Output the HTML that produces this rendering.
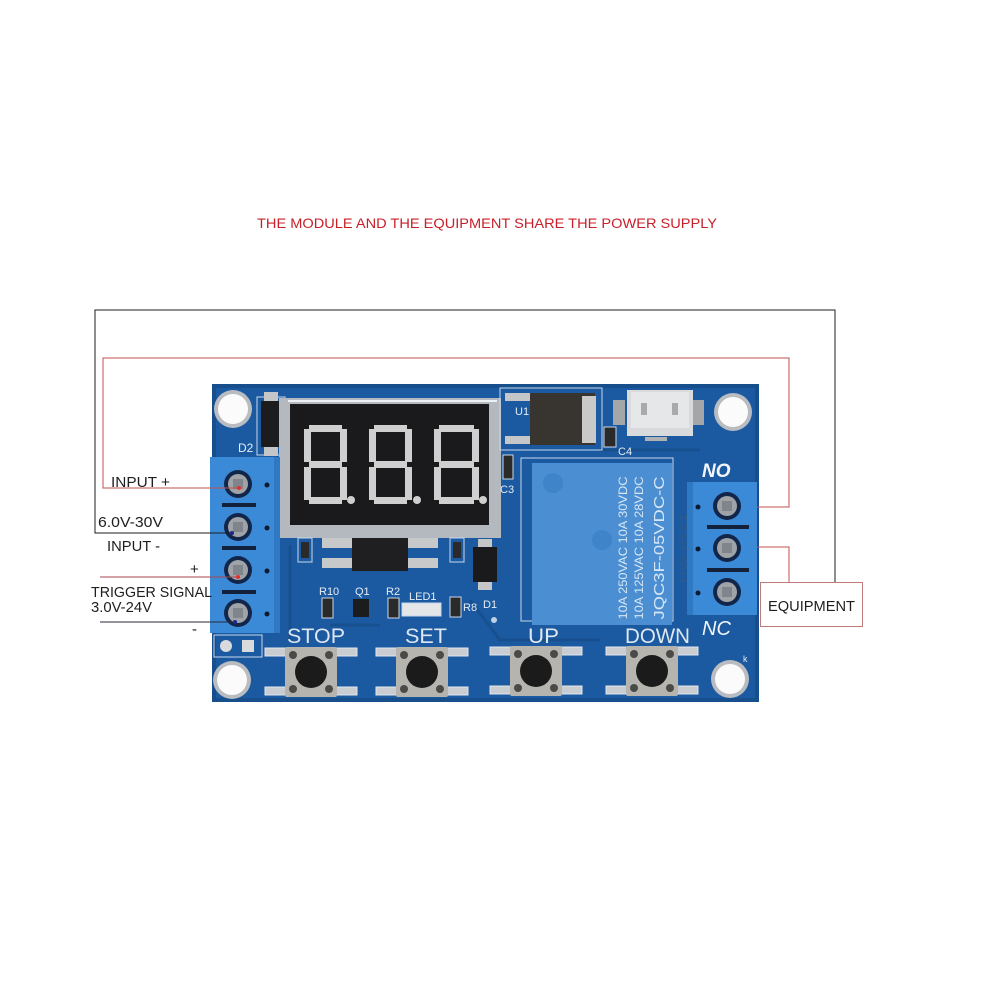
<!DOCTYPE html>
<html>
<head>
<meta charset="utf-8">
<style>
  html, body { margin:0; padding:0; background:#ffffff; }
  body { width:989px; height:989px; overflow:hidden; }
  svg { display:block; }
  text { font-family: "Liberation Sans", "DejaVu Sans", sans-serif; }
</style>
</head>
<body>
<svg width="989" height="989" viewBox="0 0 989 989" xmlns="http://www.w3.org/2000/svg">
  <rect x="0" y="0" width="989" height="989" fill="#ffffff"/>

  <!-- Title -->
  <text x="257" y="228" font-size="14" fill="#c8202a" textLength="460" lengthAdjust="spacingAndGlyphs">THE MODULE AND THE EQUIPMENT SHARE THE POWER SUPPLY</text>

  <!-- PCB board -->
  <rect x="212" y="384" width="547" height="318" rx="2" fill="#1b5aa0"/>
  <rect x="214" y="386" width="543" height="314" fill="none" stroke="#174e8c" stroke-width="4"/>
  <!-- faint traces -->
  <g stroke="#18508f" stroke-width="3" fill="none">
    <path d="M290 545 L290 640"/>
    <path d="M470 600 L500 640 L600 640"/>
    <path d="M330 625 L380 625"/>
    <path d="M600 450 L700 450"/>
  </g>

  <!-- Mounting holes -->
  <g>
    <circle cx="233" cy="409" r="19" fill="#b9bcc0"/><circle cx="233" cy="409" r="15" fill="#fbfbfb"/>
    <circle cx="733" cy="412" r="19" fill="#b9bcc0"/><circle cx="733" cy="412" r="15" fill="#fbfbfb"/>
    <circle cx="232" cy="680" r="19" fill="#b9bcc0"/><circle cx="232" cy="680" r="15" fill="#fbfbfb"/>
    <circle cx="730" cy="679" r="19" fill="#b9bcc0"/><circle cx="730" cy="679" r="15" fill="#fbfbfb"/>
  </g>

  <!-- D2 -->
  <rect x="257" y="397" width="28" height="58" fill="none" stroke="#c8d8ea" stroke-width="1"/>
  <rect x="264" y="392" width="14" height="10" fill="#c4c6c8"/>
  <rect x="264" y="446" width="14" height="10" fill="#c4c6c8"/>
  <rect x="261" y="401" width="21" height="46" fill="#1c1c1e"/>
  <text x="238" y="452" font-size="12" fill="#e6edf5">D2</text>

  <!-- Display frame -->
  <rect x="279" y="398" width="222" height="140" fill="#b4b9c0"/>
  <rect x="288" y="400" width="209" height="2" fill="#eef1f4"/>
  <rect x="290" y="404" width="199" height="121" fill="#1a1a1c"/>

  <!-- Digits -->
  <g fill="#cfcfcf">
    <!-- digit 1 at x=304 -->
    <g transform="translate(304,425)">
      <rect x="5" y="0" width="33" height="7"/>
      <rect x="36" y="4" width="7" height="33"/>
      <rect x="36" y="42" width="7" height="33"/>
      <rect x="5" y="72" width="33" height="7"/>
      <rect x="0" y="42" width="7" height="33"/>
      <rect x="0" y="4" width="7" height="33"/>
      <rect x="5" y="36" width="33" height="7"/>
      <circle cx="47" cy="75" r="4"/>
    </g>
    <g transform="translate(369,425)">
      <rect x="5" y="0" width="33" height="7"/>
      <rect x="36" y="4" width="7" height="33"/>
      <rect x="36" y="42" width="7" height="33"/>
      <rect x="5" y="72" width="33" height="7"/>
      <rect x="0" y="42" width="7" height="33"/>
      <rect x="0" y="4" width="7" height="33"/>
      <rect x="5" y="36" width="33" height="7"/>
      <circle cx="48" cy="75" r="4"/>
    </g>
    <g transform="translate(434,425)">
      <rect x="5" y="0" width="35" height="7"/>
      <rect x="38" y="4" width="7" height="33"/>
      <rect x="38" y="42" width="7" height="33"/>
      <rect x="5" y="72" width="35" height="7"/>
      <rect x="0" y="42" width="7" height="33"/>
      <rect x="0" y="4" width="7" height="33"/>
      <rect x="5" y="36" width="35" height="7"/>
      <circle cx="49" cy="75" r="4"/>
    </g>
  </g>

  <!-- Components below display -->
  <rect x="322" y="538" width="30" height="10" fill="#c6c8ca"/>
  <rect x="322" y="558" width="30" height="10" fill="#c6c8ca"/>
  <rect x="408" y="538" width="30" height="10" fill="#c6c8ca"/>
  <rect x="408" y="558" width="30" height="10" fill="#c6c8ca"/>
  <rect x="352" y="538" width="56" height="33" fill="#1f1f21"/>
  <rect x="298" y="538" width="14" height="24" fill="none" stroke="#c8d8ea"/>
  <rect x="301" y="542" width="8" height="16" fill="#2a2a2a"/>
  <rect x="450" y="538" width="14" height="24" fill="none" stroke="#c8d8ea"/>
  <rect x="453" y="542" width="8" height="16" fill="#2a2a2a"/>
  <!-- D1 -->
  <rect x="478" y="539" width="14" height="10" fill="#c4c6c8"/>
  <rect x="478" y="580" width="14" height="10" fill="#c4c6c8"/>
  <rect x="473" y="547" width="24" height="35" fill="#1a1a1c"/>
  <text x="483" y="608" font-size="11" fill="#e6edf5">D1</text>

  <!-- small labels -->
  <g font-size="11" fill="#e6edf5">
    <text x="319" y="595">R10</text>
    <text x="355" y="595">Q1</text>
    <text x="386" y="595">R2</text>
    <text x="409" y="600">LED1</text>
    <text x="463" y="611">R8</text>
  </g>
  <rect x="322" y="598" width="11" height="20" fill="#2a2a2a" stroke="#c8d8ea"/>
  <rect x="353" y="599" width="16" height="18" fill="#1c1c1c"/>
  <rect x="388" y="598" width="11" height="20" fill="#2a2a2a" stroke="#c8d8ea"/>
  <rect x="402" y="603" width="39" height="13" fill="#e4e6e8" stroke="#c8d8ea"/>
  <rect x="450" y="597" width="11" height="20" fill="#2a2a2a" stroke="#c8d8ea"/>
  <circle cx="494" cy="620" r="3" fill="#c0d0e4"/>

  <!-- U1 -->
  <rect x="500" y="388" width="102" height="62" fill="none" stroke="#c8d8ea"/>
  <rect x="505" y="393" width="27" height="8" fill="#c4c6c8"/>
  <rect x="505" y="436" width="27" height="8" fill="#c4c6c8"/>
  <rect x="530" y="393" width="65" height="52" fill="#38342f"/>
  <rect x="582" y="396" width="14" height="47" fill="#c9c9c9"/>
  <text x="515" y="415" font-size="11" fill="#e6edf5">U1</text>
  <!-- C3 -->
  <rect x="503" y="455" width="10" height="24" fill="#2a2a2a" stroke="#c8d8ea"/>
  <text x="500" y="493" font-size="11" fill="#e6edf5">C3</text>
  <!-- C4 -->
  <rect x="604" y="427" width="12" height="20" fill="#2a2a2a" stroke="#c8d8ea"/>
  <text x="618" y="455" font-size="11" fill="#e6edf5">C4</text>
  <!-- USB -->
  <rect x="613" y="400" width="12" height="25" fill="#a4a6a8"/>
  <rect x="693" y="400" width="11" height="25" fill="#a4a6a8"/>
  <rect x="627" y="390" width="66" height="46" fill="#d9dadb"/>
  <rect x="631" y="392" width="58" height="36" fill="#e6e7e8"/>
  <rect x="641" y="403" width="6" height="12" fill="#a8aaac"/>
  <rect x="672" y="403" width="6" height="12" fill="#a8aaac"/>
  <rect x="645" y="437" width="22" height="4" fill="#b0b2b4"/>

  <!-- Relay -->
  <rect x="521" y="458" width="152" height="163" fill="none" stroke="#c8d8ea" stroke-width="1"/>
  <rect x="532" y="463" width="140" height="162" fill="#4b8fd2"/>
  <circle cx="553" cy="483" r="10" fill="#3f84c9"/>
  <circle cx="602" cy="540" r="10" fill="#3f84c9"/>
  <g fill="#d6e6f6">
    <text transform="translate(627,548) rotate(-90)" font-size="12" text-anchor="middle" textLength="143" lengthAdjust="spacingAndGlyphs">10A 250VAC 10A 30VDC</text>
    <text transform="translate(643,548) rotate(-90)" font-size="12" text-anchor="middle" textLength="143" lengthAdjust="spacingAndGlyphs">10A 125VAC 10A 28VDC</text>
    <text transform="translate(664,548) rotate(-90)" font-size="15" text-anchor="middle" textLength="143" lengthAdjust="spacingAndGlyphs">JQC3F-05VDC-C</text>
  </g>
  <text transform="translate(687,548) rotate(-90)" font-size="11" fill="#2d5a8c" text-anchor="middle" textLength="70" lengthAdjust="spacingAndGlyphs">HW-0521</text>

  <!-- Right terminal block -->
  <rect x="687" y="482" width="70" height="133" fill="#3b8ad8"/>
  <rect x="687" y="482" width="6" height="133" fill="#2f78c2"/>
  <rect x="707" y="525" width="42" height="4" fill="#14213a"/>
  <rect x="707" y="568" width="42" height="4" fill="#14213a"/>
  <g>
    <circle cx="698" cy="507" r="2.5" fill="#0e1a30"/>
    <circle cx="698" cy="549" r="2.5" fill="#0e1a30"/>
    <circle cx="698" cy="593" r="2.5" fill="#0e1a30"/>
    <circle cx="727" cy="506" r="14" fill="#12264a"/><circle cx="727" cy="506" r="10" fill="#9fa3a8"/><rect x="722" y="501" width="10" height="10" fill="#80858b"/>
    <circle cx="727" cy="548" r="14" fill="#12264a"/><circle cx="727" cy="548" r="10" fill="#9fa3a8"/><rect x="722" y="543" width="10" height="10" fill="#80858b"/>
    <circle cx="727" cy="592" r="14" fill="#12264a"/><circle cx="727" cy="592" r="10" fill="#9fa3a8"/><rect x="722" y="587" width="10" height="10" fill="#80858b"/>
  </g>
  <text x="702" y="477" font-size="19" font-weight="bold" font-style="italic" fill="#f2f6fb">NO</text>
  <text x="702" y="635" font-size="20" font-style="italic" fill="#f2f6fb">NC</text>
  <text x="743" y="662" font-size="9" fill="#e6edf5">k</text>

  <!-- Left terminal block -->
  <rect x="210" y="457" width="70" height="176" fill="#3b8ad8"/>
  <rect x="274" y="457" width="6" height="176" fill="#2f78c2"/>
  <rect x="222" y="503" width="34" height="4" fill="#14213a"/>
  <rect x="222" y="546" width="34" height="4" fill="#14213a"/>
  <rect x="222" y="590" width="34" height="4" fill="#14213a"/>
  <g>
    <circle cx="267" cy="485" r="2.5" fill="#0e1a30"/>
    <circle cx="267" cy="528" r="2.5" fill="#0e1a30"/>
    <circle cx="267" cy="571" r="2.5" fill="#0e1a30"/>
    <circle cx="267" cy="614" r="2.5" fill="#0e1a30"/>
    <circle cx="238" cy="484" r="14" fill="#12264a"/><circle cx="238" cy="484" r="10" fill="#9fa3a8"/><rect x="233" y="479" width="10" height="10" fill="#80858b"/>
    <circle cx="238" cy="527" r="14" fill="#12264a"/><circle cx="238" cy="527" r="10" fill="#9fa3a8"/><rect x="233" y="522" width="10" height="10" fill="#80858b"/>
    <circle cx="238" cy="570" r="14" fill="#12264a"/><circle cx="238" cy="570" r="10" fill="#9fa3a8"/><rect x="233" y="565" width="10" height="10" fill="#80858b"/>
    <circle cx="238" cy="613" r="14" fill="#12264a"/><circle cx="238" cy="613" r="10" fill="#9fa3a8"/><rect x="233" y="608" width="10" height="10" fill="#80858b"/>
  </g>
  <!-- small pads below left terminal -->
  <rect x="214" y="635" width="48" height="22" fill="none" stroke="#c8d8ea"/>
  <circle cx="226" cy="646" r="6" fill="#d8dadc"/>
  <rect x="242" y="640" width="12" height="12" fill="#d8dadc"/>

  <!-- Buttons -->
  <g id="btns">
    <!-- STOP -->
    <g transform="translate(311,672)">
      <rect x="-46" y="-24" width="22" height="8" fill="#c9cdd2" stroke="#e0e6ee" stroke-width="1"/>
      <rect x="-46" y="15" width="22" height="8" fill="#c9cdd2" stroke="#e0e6ee" stroke-width="1"/>
      <rect x="24" y="-24" width="22" height="8" fill="#c9cdd2" stroke="#e0e6ee" stroke-width="1"/>
      <rect x="24" y="15" width="22" height="8" fill="#c9cdd2" stroke="#e0e6ee" stroke-width="1"/>
      <rect x="-26" y="-25" width="52" height="50" rx="2" fill="#b6b4ae"/>
      <circle cx="0" cy="0" r="16" fill="#1b1b1b"/>
      <circle cx="-18" cy="-17" r="4" fill="#4a4a48"/><circle cx="18" cy="-17" r="4" fill="#4a4a48"/>
      <circle cx="-18" cy="17" r="4" fill="#4a4a48"/><circle cx="18" cy="17" r="4" fill="#4a4a48"/>
    </g>
    <g transform="translate(422,672)">
      <rect x="-46" y="-24" width="22" height="8" fill="#c9cdd2" stroke="#e0e6ee" stroke-width="1"/>
      <rect x="-46" y="15" width="22" height="8" fill="#c9cdd2" stroke="#e0e6ee" stroke-width="1"/>
      <rect x="24" y="-24" width="22" height="8" fill="#c9cdd2" stroke="#e0e6ee" stroke-width="1"/>
      <rect x="24" y="15" width="22" height="8" fill="#c9cdd2" stroke="#e0e6ee" stroke-width="1"/>
      <rect x="-26" y="-25" width="52" height="50" rx="2" fill="#b6b4ae"/>
      <circle cx="0" cy="0" r="16" fill="#1b1b1b"/>
      <circle cx="-18" cy="-17" r="4" fill="#4a4a48"/><circle cx="18" cy="-17" r="4" fill="#4a4a48"/>
      <circle cx="-18" cy="17" r="4" fill="#4a4a48"/><circle cx="18" cy="17" r="4" fill="#4a4a48"/>
    </g>
    <g transform="translate(536,671)">
      <rect x="-46" y="-24" width="22" height="8" fill="#c9cdd2" stroke="#e0e6ee" stroke-width="1"/>
      <rect x="-46" y="15" width="22" height="8" fill="#c9cdd2" stroke="#e0e6ee" stroke-width="1"/>
      <rect x="24" y="-24" width="22" height="8" fill="#c9cdd2" stroke="#e0e6ee" stroke-width="1"/>
      <rect x="24" y="15" width="22" height="8" fill="#c9cdd2" stroke="#e0e6ee" stroke-width="1"/>
      <rect x="-26" y="-25" width="52" height="50" rx="2" fill="#b6b4ae"/>
      <circle cx="0" cy="0" r="16" fill="#1b1b1b"/>
      <circle cx="-18" cy="-17" r="4" fill="#4a4a48"/><circle cx="18" cy="-17" r="4" fill="#4a4a48"/>
      <circle cx="-18" cy="17" r="4" fill="#4a4a48"/><circle cx="18" cy="17" r="4" fill="#4a4a48"/>
    </g>
    <g transform="translate(652,671)">
      <rect x="-46" y="-24" width="22" height="8" fill="#c9cdd2" stroke="#e0e6ee" stroke-width="1"/>
      <rect x="-46" y="15" width="22" height="8" fill="#c9cdd2" stroke="#e0e6ee" stroke-width="1"/>
      <rect x="24" y="-24" width="22" height="8" fill="#c9cdd2" stroke="#e0e6ee" stroke-width="1"/>
      <rect x="24" y="15" width="22" height="8" fill="#c9cdd2" stroke="#e0e6ee" stroke-width="1"/>
      <rect x="-26" y="-25" width="52" height="50" rx="2" fill="#b6b4ae"/>
      <circle cx="0" cy="0" r="16" fill="#1b1b1b"/>
      <circle cx="-18" cy="-17" r="4" fill="#4a4a48"/><circle cx="18" cy="-17" r="4" fill="#4a4a48"/>
      <circle cx="-18" cy="17" r="4" fill="#4a4a48"/><circle cx="18" cy="17" r="4" fill="#4a4a48"/>
    </g>
  </g>
  <g font-size="21" fill="#dfe7f1">
    <text x="287" y="643" textLength="58" lengthAdjust="spacingAndGlyphs">STOP</text>
    <text x="405" y="643" textLength="42" lengthAdjust="spacingAndGlyphs">SET</text>
    <text x="528" y="643" textLength="31" lengthAdjust="spacingAndGlyphs">UP</text>
    <text x="625" y="643" textLength="65" lengthAdjust="spacingAndGlyphs">DOWN</text>
  </g>

  <!-- Connector lines -->
  <polyline points="230,533 95,533 95,310 835,310 835,582" fill="none" stroke="#1e1e1e" stroke-width="1"/>
  <polyline points="238,488 103,488 103,358 789,358 789,507 757,507" fill="none" stroke="#c0504f" stroke-width="1"/>
  <polyline points="757,547 789,547 789,582" fill="none" stroke="#c0504f" stroke-width="1"/>
  <line x1="100" y1="577" x2="238" y2="577" stroke="#a9474f" stroke-width="1"/>
  <line x1="100" y1="622" x2="236" y2="622" stroke="#2a2a3a" stroke-width="1"/>
  <circle cx="239" cy="488" r="2" fill="#e03030"/>
  <circle cx="238" cy="577" r="2" fill="#e03030"/>
  <circle cx="232" cy="533" r="2" fill="#1a2a8a"/>
  <circle cx="235" cy="622" r="2" fill="#1a2a8a"/>

  <!-- Equipment box -->
  <rect x="760.5" y="582.5" width="102" height="44" fill="#ffffff" stroke="#c07a7a" stroke-width="1"/>
  <text x="768" y="611" font-size="15" fill="#1e1e1e" textLength="87" lengthAdjust="spacingAndGlyphs">EQUIPMENT</text>

  <!-- Left labels -->
  <g font-size="15" fill="#1e1e1e">
    <text x="111" y="487" textLength="59" lengthAdjust="spacingAndGlyphs">INPUT +</text>
    <text x="98" y="527" textLength="65" lengthAdjust="spacingAndGlyphs">6.0V-30V</text>
    <text x="107" y="551" textLength="53" lengthAdjust="spacingAndGlyphs">INPUT -</text>
    <text x="190" y="574">+</text>
    <text x="91" y="597" textLength="121" lengthAdjust="spacingAndGlyphs">TRIGGER SIGNAL</text>
    <text x="91" y="612" textLength="61" lengthAdjust="spacingAndGlyphs">3.0V-24V</text>
    <text x="192" y="634">-</text>
  </g>
</svg>
</body>
</html>
